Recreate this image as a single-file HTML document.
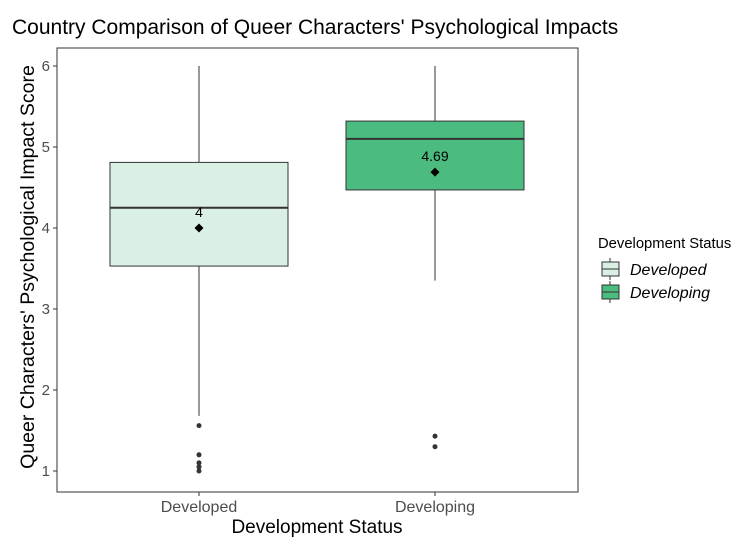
<!DOCTYPE html>
<html><head><meta charset="utf-8"><style>
body{margin:0;background:#fff;font-family:"Liberation Sans",sans-serif;}
</style></head><body>
<svg id="c" width="755" height="555" xmlns="http://www.w3.org/2000/svg" font-family="Liberation Sans, sans-serif">
<text x="12" y="34" font-size="21" fill="#000">Country Comparison of Queer Characters' Psychological Impacts</text>
<rect x="57" y="48" width="521" height="444" fill="none" stroke="#333" stroke-width="1"/>
<g id="plot"></g>
<text x="317" y="533" font-size="19" text-anchor="middle">Development Status</text>
<text transform="translate(34,267) rotate(-90)" font-size="19.5" text-anchor="middle">Queer Characters' Psychological Impact Score</text>
<g>
<text x="598" y="248" font-size="14.8">Development Status</text>
<g>
<line x1="610" y1="258" x2="610" y2="280" stroke="#333"/><rect x="602" y="262" width="17" height="14" fill="#DAF0E4" stroke="#333"/><line x1="602" y1="269" x2="619" y2="269" stroke="#333"/>
<text x="630" y="275" font-size="16" font-style="italic">Developed</text></g>
<g>
<line x1="610" y1="281" x2="610" y2="303" stroke="#333"/><rect x="602" y="285" width="17" height="14" fill="#4CBB7F" stroke="#333"/><line x1="602" y1="292" x2="619" y2="292" stroke="#333"/>
<text x="630" y="298" font-size="16" font-style="italic">Developing</text></g>
</g>
</svg>
<script>
const categories=["Developed","Developing"];
const q1=[3.53,4.47];
const medians=[4.25,5.1];
const q3=[4.81,5.32];
const whiskLow=[1.68,3.35];
const whiskHigh=[6,6];
const means=[4,4.69];
const meanLabels=["4","4.69"];
const outliers=[[1.56,1.2,1.1,1.05,1.0],[1.43,1.3]];
const yTicks=[1,2,3,4,5,6];
const fills=["#DAF0E4","#4CBB7F"];
const y=v=>471-(v-1)*81;
const x=i=>199+i*236;
const hw=89;
const g=document.getElementById('plot');
const NS="http://www.w3.org/2000/svg";
function mk(t,a,p){const e=document.createElementNS(NS,t);for(const k in a)e.setAttribute(k,a[k]);(p||g).appendChild(e);return e;}
yTicks.forEach(v=>{
 const l=mk('line',{x1:53,x2:57,y1:y(v),y2:y(v),stroke:'#333'});
 
 
 const t=mk('text',{x:50,y:y(v)+5,'font-size':15,'text-anchor':'end',fill:'#4d4d4d'});t.textContent=v;
 
 
});
categories.forEach((c,i)=>{
 const cx=x(i);
 const tk=mk('line',{x1:cx,x2:cx,y1:492,y2:496,stroke:'#333'});
 
 
 const t=mk('text',{x:cx,y:512,'font-size':16,'text-anchor':'middle',fill:'#4d4d4d'});t.textContent=c;
 
 
 const w1=mk('line',{x1:cx,x2:cx,y1:y(whiskHigh[i]),y2:y(q3[i]),stroke:'#333'});
 
 
 const w2=mk('line',{x1:cx,x2:cx,y1:y(q1[i]),y2:y(whiskLow[i]),stroke:'#333'});
 
 
 const b=mk('rect',{x:cx-hw,y:y(q3[i]),width:2*hw,height:y(q1[i])-y(q3[i]),fill:fills[i],stroke:'#333'});
 
 
 const m=mk('line',{x1:cx-hw,x2:cx+hw,y1:y(medians[i]),y2:y(medians[i]),stroke:'#333','stroke-width':2});
 
 
 outliers[i].forEach(o=>{
  const p=mk('circle',{cx:cx,cy:y(o),r:2.5,fill:'#333'});
  
  
 });
 const my=y(means[i]);
 const d=mk('polygon',{points:`${cx},${my-4.5} ${cx+4.5},${my} ${cx},${my+4.5} ${cx-4.5},${my}`,fill:'#000'});
 
 
 const ml=mk('text',{x:cx,y:my-11,'font-size':14,'text-anchor':'middle'});ml.textContent=meanLabels[i];
 
 
});
</script>
</body></html>
